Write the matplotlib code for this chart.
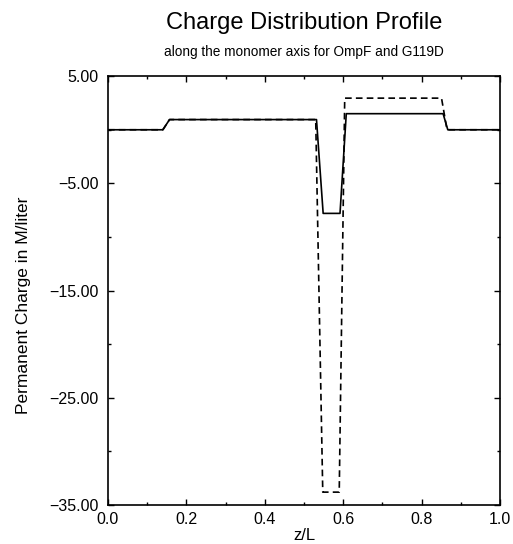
import matplotlib
matplotlib.use('Agg')
import matplotlib.pyplot as plt
from matplotlib.ticker import MultipleLocator, FuncFormatter

plt.rcParams['font.family'] = ['Liberation Sans', 'DejaVu Sans']

# OmpF (solid) and G119D (dashed) charge profiles
z_ompf = [0.0, 0.140, 0.157, 0.532, 0.549, 0.592, 0.608, 0.855, 0.867, 1.0]
q_ompf = [0.0, 0.0, 0.95, 0.95, -7.8, -7.8, 1.5, 1.5, 0.0, 0.0]

z_g119d = [0.0, 0.140, 0.157, 0.530, 0.548, 0.590, 0.604, 0.851, 0.865, 1.0]
q_g119d = [0.0, 0.0, 0.95, 0.95, -33.8, -33.8, 2.95, 2.95, 0.0, 0.0]

y_major = [5, -5, -15, -25, -35]
y_minor = [0, -10, -20, -30]


def fmt(v, decimals):
    s = '%.*f' % (decimals, v)
    return s.replace('-', '\u2212')


fig = plt.figure(figsize=(5.13, 5.44), dpi=100)
ax = fig.add_axes([0.2105, 0.0717, 0.764, 0.7883])

ax.plot(z_ompf, q_ompf, color='black', linewidth=1.2)
ax.plot(z_g119d, q_g119d, color='black', linewidth=1.2, linestyle=(0, (4, 2.5)))

ax.set_xlim(0, 1)
ax.set_ylim(-35, 5)
ax.xaxis.set_major_locator(MultipleLocator(0.2))
ax.xaxis.set_minor_locator(MultipleLocator(0.1))
ax.set_yticks(y_major)
ax.set_yticks(y_minor, minor=True)
ax.xaxis.set_major_formatter(FuncFormatter(lambda v, p: fmt(v, 1)))
ax.yaxis.set_major_formatter(FuncFormatter(lambda v, p: fmt(v, 2)))

ax.tick_params(which='both', direction='in', top=True, right=True, labelsize=11.5)
ax.tick_params(which='major', length=4.5, width=1)
ax.tick_params(which='minor', length=2.2, width=1)
ax.tick_params(axis='y', pad=7)
ax.tick_params(axis='x', pad=5)
for s in ax.spines.values():
    s.set_linewidth(1.2)

ax.set_xlabel('z/L', fontsize=12, labelpad=1)
fig.text(24 / 513, 1 - 305 / 544, 'Permanent Charge in M/liter', rotation=90,
         ha='center', va='center', fontsize=12.5)

fig.text(0.593, 1 - 23 / 544, 'Charge Distribution Profile', ha='center', va='center', fontsize=17)
fig.text(0.593, 1 - 52 / 544, 'along the monomer axis for OmpF and G119D', ha='center', va='center', fontsize=9.8)

fig.savefig('out.png', dpi=100)
